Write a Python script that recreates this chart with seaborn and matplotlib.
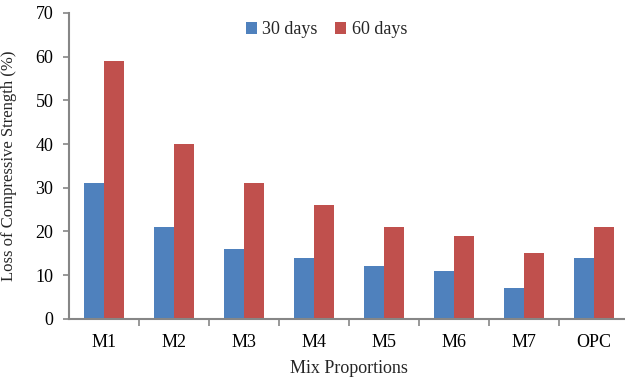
import matplotlib
matplotlib.use("Agg")
import matplotlib.pyplot as plt
import pandas as pd
import seaborn as sns

# ── Data ──────────────────────────────────────────────────────────────────────
mixes = ["M1", "M2", "M3", "M4", "M5", "M6", "M7", "OPC"]
loss_30 = [31, 21, 16, 14, 12, 11, 7, 14]
loss_60 = [59, 40, 31, 26, 21, 19, 15, 21]

df = pd.DataFrame({
    "Mix": mixes * 2,
    "Loss": loss_30 + loss_60,
    "Age": ["30 days"] * len(mixes) + ["60 days"] * len(mixes),
})

sns.set_theme(style="white")
plt.rcParams["font.family"] = ["Liberation Serif", "DejaVu Serif"]

fig = plt.figure(figsize=(6.25, 3.77), dpi=100)
ax = fig.add_axes([0.110, 0.154, 0.896, 0.812])

sns.barplot(data=df, x="Mix", y="Loss", hue="Age",
            palette=["#4F81BD", "#C0504D"], width=0.57,
            saturation=1, linewidth=0, edgecolor="none", ax=ax)

ax.set_xlim(-0.5, 7.5)
ax.set_ylim(0, 70)
ax.set_yticks(range(0, 71, 10))
ax.set_xlabel("Mix Proportions", fontsize=13, labelpad=6)
ax.set_ylabel("Loss of Compressive Strength (%)", fontsize=12, labelpad=13)
ax.tick_params(axis="both", labelsize=13, colors="black")
ax.tick_params(axis="x", length=0, pad=11)
ax.tick_params(axis="y", left=True, length=4, width=1.2, color="#868686",
               pad=7)
ax.set_xticks([i + 0.5 for i in range(len(mixes) - 1)], minor=True)
ax.tick_params(axis="x", which="minor", bottom=True, length=5, width=1.2,
               color="#868686")

for side in ["top", "right"]:
    ax.spines[side].set_visible(False)
for side in ["left", "bottom"]:
    ax.spines[side].set_color("#868686")
    ax.spines[side].set_linewidth(1.5)

ax.legend(loc="upper center", bbox_to_anchor=(0.46, 1.025), ncol=2,
          frameon=False, fontsize=13, handlelength=0.6, handleheight=0.6,
          handletextpad=0.3, columnspacing=1.0)

plt.savefig("out.png", dpi=100)
plt.close()
